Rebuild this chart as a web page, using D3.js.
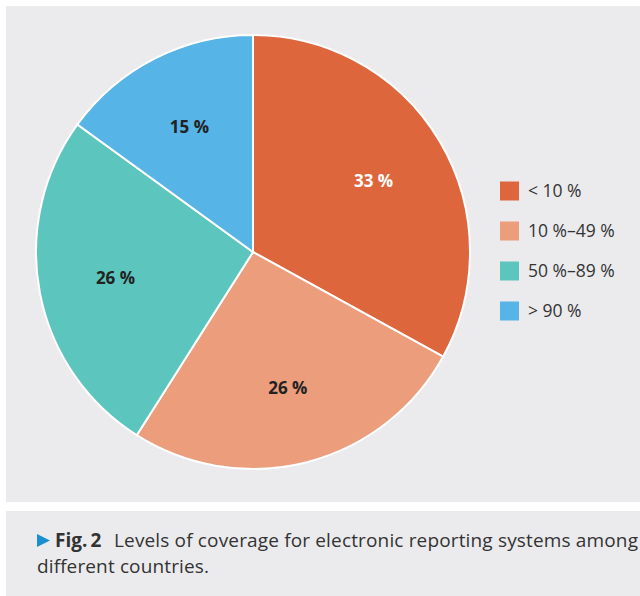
<!DOCTYPE html>
<html>
<head>
<meta charset="utf-8">
<script src="https://cdn.jsdelivr.net/npm/d3@7"></script>
<style>
  body { margin: 0; background: #fff; }
  svg { display: block; }
</style>
</head>
<body>
<svg id="svg1" width="640" height="596"></svg>
<script>
"use strict"

// data
const categories = ["< 10 %", "10 %\u201349 %", "50 %\u201389 %", "> 90 %"];
const values = [33, 26, 26, 15];
const sliceLabels = ["33 %", "26 %", "26 %", "15 %"];
const colours = ["#de663c", "#ec9d7b", "#5cc6be", "#56b4e6"];
const labelColours = ["#ffffff", "#222222", "#222222", "#222222"];

const svg = d3.select("#svg1");
const font = "'Open Sans', sans-serif";

// grey panels
svg.append("rect").attr("x", 6).attr("y", 6).attr("width", 634).attr("height", 496).attr("fill", "#ebebee");
svg.append("rect").attr("x", 6).attr("y", 511).attr("width", 634).attr("height", 85).attr("fill", "#ebebee");

// pie
const cx = 253, cy = 252, radius = 217;
const pie = d3.pie().sort(null).value(d => d);
const arc = d3.arc().innerRadius(0).outerRadius(radius);
const labelArc = d3.arc().innerRadius(140).outerRadius(140);

const g = svg.append("g").attr("transform", `translate(${cx},${cy})`);
const arcs = pie(values);

g.selectAll(".slice")
  .data(arcs)
  .enter().append("path")
    .attr("class", "slice")
    .attr("d", arc)
    .attr("fill", (d, i) => colours[i])
    .attr("stroke", "#ffffff")
    .attr("stroke-width", 2);

g.selectAll(".slice-label")
  .data(arcs)
  .enter().append("text")
    .attr("class", "slice-label")
    .attr("transform", d => `translate(${labelArc.centroid(d)})`)
    .attr("text-anchor", "middle")
    .attr("dy", "0.36em")
    .style("font-family", font)
    .style("font-size", "17px")
    .style("font-weight", "bold")
    .attr("fill", (d, i) => labelColours[i])
    .text((d, i) => sliceLabels[i]);

// legend
const legendY = d3.scaleBand().domain(categories).range([171, 331]);
const legend = svg.append("g");
legend.selectAll(".legend-box")
  .data(categories)
  .enter().append("rect")
    .attr("class", "legend-box")
    .attr("x", 500)
    .attr("y", d => legendY(d) + legendY.bandwidth() / 2 - 9.5)
    .attr("width", 19)
    .attr("height", 19)
    .attr("fill", (d, i) => colours[i]);

legend.selectAll(".legend-text")
  .data(categories)
  .enter().append("text")
    .attr("class", "legend-text")
    .attr("x", 528)
    .attr("y", d => legendY(d) + legendY.bandwidth() / 2)
    .attr("dy", "0.36em")
    .style("font-family", font)
    .style("font-size", "17.5px")
    .attr("fill", "#333333")
    .text(d => d);

// caption
svg.append("path")
  .attr("d", "M37,534L50,540.5L37,547Z")
  .attr("fill", "#1a8fd0");

svg.append("text")
  .attr("x", 55).attr("y", 547)
  .style("font-family", font)
  .style("font-size", "19px")
  .style("font-weight", "bold")
  .attr("fill", "#333333")
  .text("Fig.\u20092");

svg.append("text")
  .attr("x", 114).attr("y", 547)
  .attr("textLength", 524)
  .attr("lengthAdjust", "spacing")
  .style("font-family", font)
  .style("font-size", "19px")
  .attr("fill", "#333333")
  .text("Levels of coverage for electronic reporting systems among");

svg.append("text")
  .attr("x", 37).attr("y", 573)
  .attr("textLength", 172)
  .attr("lengthAdjust", "spacing")
  .style("font-family", font)
  .style("font-size", "19px")
  .attr("fill", "#333333")
  .text("different countries.");
</script>
</body>
</html>
